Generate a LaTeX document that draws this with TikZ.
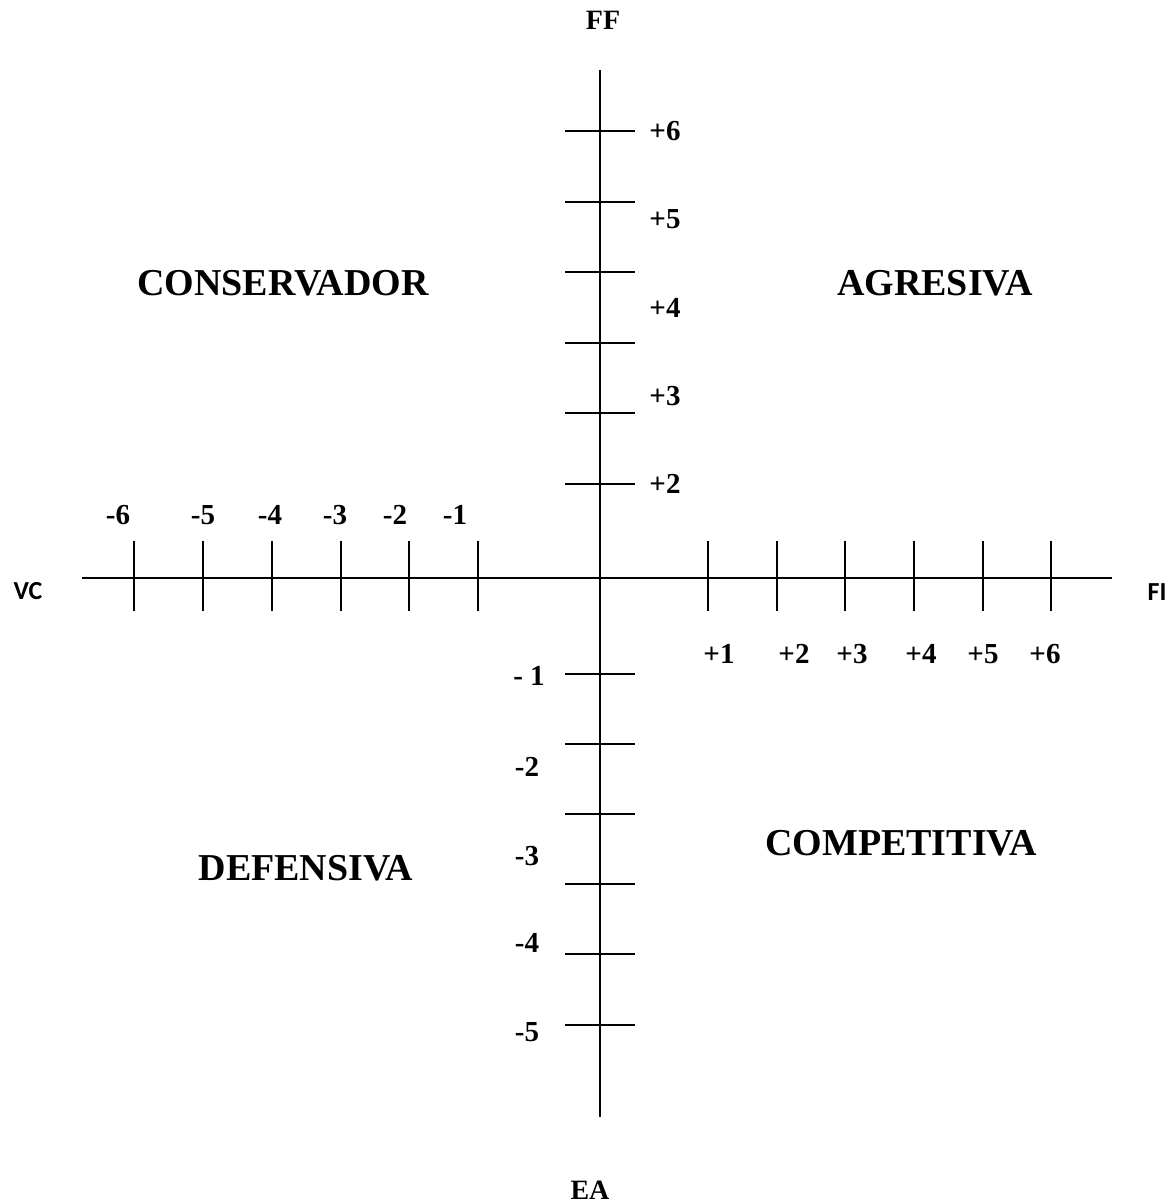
\documentclass[tikz,border=0pt]{standalone}
\usepackage{fontspec}
\setmainfont{Liberation Serif}
\newfontfamily\calib{Carlito}
\tikzset{
  axisline/.style={line width=2.4pt, black},
  tickline/.style={line width=2.4pt, black},
  biglab/.style={font=\bfseries\fontsize{38}{44}\selectfont, inner sep=0pt},
  numlab/.style={font=\bfseries\fontsize{29}{34}\selectfont, inner sep=0pt},
  axlab/.style={font=\bfseries\fontsize{28}{32}\selectfont, inner sep=0pt},
  sanslab/.style={font=\calib\bfseries\fontsize{26}{30}\selectfont, inner sep=0pt}
}
\begin{document}
\begin{tikzpicture}[x=1pt,y=-1pt]
\useasboundingbox (0,0) rectangle (1175,1203);
% axes
\coordinate (vtop) at (600,70);
\coordinate (vbot) at (600,1117);
\coordinate (hleft) at (82,578);
\coordinate (hright) at (1112,578);
\draw[axisline] (vtop) -- (vbot);
\draw[axisline] (hleft) -- (hright);
% ticks on vertical axis
\foreach \y [count=\i] in {131,202,272,343,413,484,674,744,814,884,954,1025}{
  \coordinate (vl\i) at (565,\y);
  \coordinate (vr\i) at (635,\y);
  \draw[tickline] (vl\i) -- (vr\i);
}
% ticks on horizontal axis
\foreach \x [count=\i] in {134,203,272,341,409,478,708,777,845,914,983,1051}{
  \coordinate (ht\i) at (\x,541);
  \coordinate (hb\i) at (\x,611);
  \draw[tickline] (ht\i) -- (hb\i);
}
% axis labels
\node[axlab] (ff) at (603,20) {FF};
\node[axlab] (ea) at (590,1190) {EA};
\node[sanslab] (vc) at (28,591) {VC};
\node[sanslab] (fi) at (1157,592) {FI};
% quadrant labels
\node[biglab] (cons) at (283,283) {CONSERVADOR};
\node[biglab] (agr) at (935,283) {AGRESIVA};
\node[biglab] (def) at (306,868) {DEFENSIVA};
\node[biglab] (comp) at (901,843) {COMPETITIVA};
% positive vertical labels
\node[numlab] (p6) at (665,131) {+6};
\node[numlab] (p5) at (665,219) {+5};
\node[numlab] (p4) at (665,308) {+4};
\node[numlab] (p3) at (665,396) {+3};
\node[numlab] (p2) at (665,484) {+2};
% negative vertical labels
\node[numlab] (m1) at (529,676) {- 1};
\node[numlab] (m2) at (527,767) {-2};
\node[numlab] (m3) at (527,856) {-3};
\node[numlab] (m4) at (527,943) {-4};
\node[numlab] (m5) at (527,1032) {-5};
% negative horizontal labels
\node[numlab] (h6) at (118,515) {-6};
\node[numlab] (h5) at (203,515) {-5};
\node[numlab] (h4) at (270,515) {-4};
\node[numlab] (h3) at (335,515) {-3};
\node[numlab] (h2) at (395,515) {-2};
\node[numlab] (h1) at (455,515) {-1};
% positive horizontal labels
\node[numlab] (q1) at (719,654) {+1};
\node[numlab] (q2) at (794,654) {+2};
\node[numlab] (q3) at (852,654) {+3};
\node[numlab] (q4) at (921,654) {+4};
\node[numlab] (q5) at (983,654) {+5};
\node[numlab] (q6) at (1045,654) {+6};
\end{tikzpicture}
\end{document}
